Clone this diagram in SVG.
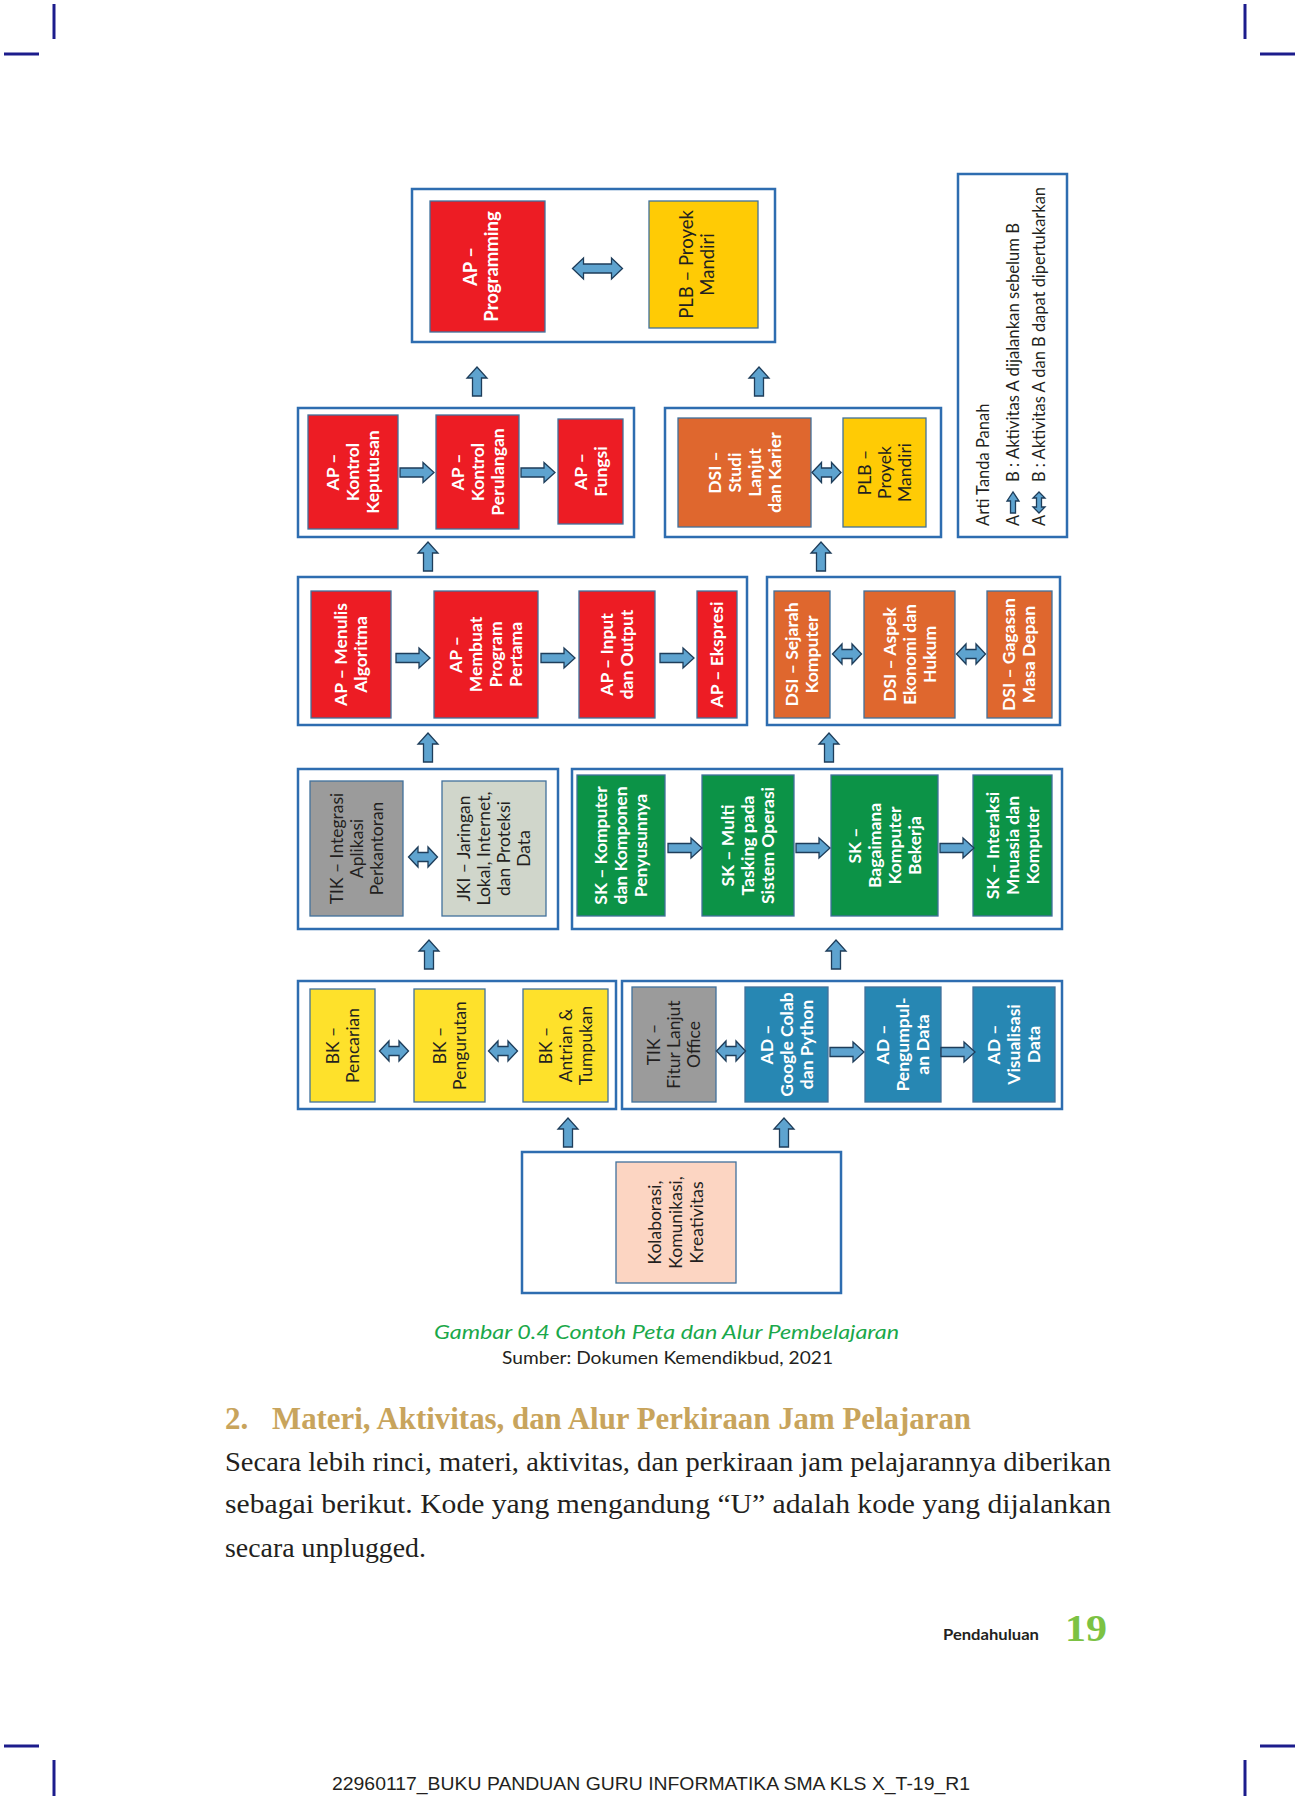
<svg xmlns="http://www.w3.org/2000/svg" xmlns:xlink="http://www.w3.org/1999/xlink" width="1298" height="1800" viewBox="0 0 1298 1800">
<style>
.pg{fill:#fff}
.crop{stroke:#1c1c8c;stroke-width:3;fill:none}
.ob{fill:#fff;stroke:#2e6db0;stroke-width:2.5}
.ib{stroke:#41719c;stroke-width:1.3}
.red{fill:#ed1c24}.yel{fill:#ffcb05}.byel{fill:#fee12b}.org{fill:#df672e}.gry{fill:#9b9b9b}.lgr{fill:#d0d6cb}.grn{fill:#0c9347}.blu{fill:#2787b3}.pch{fill:#fcd5c2}
.bt{font-family:Lato,"Open Sans","DejaVu Sans",sans-serif;font-size:17.5px;text-anchor:middle}
.big{font-size:18.5px}
.tw{fill:#fff;font-weight:700}
.tk{fill:#231f20;font-weight:400}
.lg{font-family:Lato,"Open Sans","DejaVu Sans",sans-serif;font-size:16.5px;fill:#231f20}
.arr{fill:#5ea3cf;stroke:#1e3d5a;stroke-width:1.3;stroke-linejoin:miter}
.cap{font-family:Lato,"Open Sans","Liberation Sans",sans-serif}
.ser{font-family:"Liberation Serif","DejaVu Serif",serif}
</style>
<defs>
<path id="ar" d="M0,-4.5H23V-10L34,0L23,10V4.5H0Z"/>
<path id="au" d="M-4.5,0V-18H-10L0,-29L10,-18H4.5V0Z"/>
<path id="ad" d="M-14.5,0L-5,-10V-4.5H5V-10L14.5,0L5,10V4.5H-5V10Z"/>
<path id="ad2" d="M-25,0L-14,-10.5V-4.5H14V-10.5L25,0L14,10.5V4.5H-14V10.5Z"/>
<path id="lu" d="M-2.5,0V-12H-6L0,-21L6,-12H2.5V0Z"/>
<path id="ld" d="M0,-10.5L6,-4.5H2.5V4.5H6L0,10.5L-6,4.5H-2.5V-4.5H-6Z"/>
</defs>
<rect class="pg" x="0" y="0" width="1298" height="1800"/>

<g id="crop-marks">
<line class="crop" x1="54" y1="4" x2="54" y2="39"/>
<line class="crop" x1="4" y1="54" x2="39" y2="54"/>
<line class="crop" x1="1245" y1="4" x2="1245" y2="39"/>
<line class="crop" x1="1260" y1="54" x2="1295" y2="54"/>
<line class="crop" x1="4" y1="1746" x2="39" y2="1746"/>
<line class="crop" x1="54" y1="1760" x2="54" y2="1796"/>
<line class="crop" x1="1260" y1="1746" x2="1295" y2="1746"/>
<line class="crop" x1="1245" y1="1760" x2="1245" y2="1796"/>
</g>

<g id="groups">
<rect class="ob" x="412" y="189" width="363" height="153"/>
<rect class="ob" x="298" y="408" width="336" height="129"/>
<rect class="ob" x="665" y="408" width="276" height="129"/>
<rect class="ob" x="298" y="577" width="449" height="148"/>
<rect class="ob" x="767" y="577" width="293" height="148"/>
<rect class="ob" x="298" y="769" width="260" height="160"/>
<rect class="ob" x="572" y="769" width="490" height="160"/>
<rect class="ob" x="298" y="981" width="318" height="128"/>
<rect class="ob" x="622" y="981" width="440" height="128"/>
<rect class="ob" x="522" y="1152" width="319" height="141"/>
</g>

<g id="legend">
<rect class="ob" x="958" y="174" width="109" height="363"/>
<text class="lg" transform="translate(989,526) rotate(-90)">Arti Tanda Panah</text>
<text class="lg" transform="translate(1019,526) rotate(-90)">A</text>
<use href="#lu" class="arr" x="1013" y="513"/>
<text class="lg" transform="translate(1019,482) rotate(-90)" textLength="259" lengthAdjust="spacingAndGlyphs">B : Aktivitas A dijalankan sebelum B</text>
<text class="lg" transform="translate(1045,526) rotate(-90)">A</text>
<use href="#ld" class="arr" x="1039" y="502.5"/>
<text class="lg" transform="translate(1045,482) rotate(-90)" textLength="295" lengthAdjust="spacingAndGlyphs">B : Aktivitas A dan B dapat dipertukarkan</text>
</g>

<g id="n-ap-programming"><rect class="ib red" x="430" y="201" width="115" height="131"/>
<text class="bt big tw" transform="translate(481,266.5) rotate(-90)"><tspan x="0" y="-4">AP –</tspan><tspan x="0" y="17">Programming</tspan></text></g>
<g id="n-plb-top"><rect class="ib yel" x="649" y="201" width="109" height="127"/>
<text class="bt big tk" transform="translate(697,264.5) rotate(-90)"><tspan x="0" y="-4">PLB – Proyek</tspan><tspan x="0" y="17">Mandiri</tspan></text></g>

<g id="n-ap-keputusan"><rect class="ib red" x="308" y="415" width="90" height="114"/>
<text class="bt tw" transform="translate(353,472) rotate(-90)"><tspan x="0" y="-14">AP –</tspan><tspan x="0" y="6">Kontrol</tspan><tspan x="0" y="26">Keputusan</tspan></text></g>
<g id="n-ap-perulangan"><rect class="ib red" x="436" y="415" width="83" height="114"/>
<text class="bt tw" transform="translate(477.5,472) rotate(-90)"><tspan x="0" y="-14">AP –</tspan><tspan x="0" y="6">Kontrol</tspan><tspan x="0" y="26">Perulangan</tspan></text></g>
<g id="n-ap-fungsi"><rect class="ib red" x="558" y="419" width="65" height="105"/>
<text class="bt tw" transform="translate(590.5,471.5) rotate(-90)"><tspan x="0" y="-4">AP –</tspan><tspan x="0" y="16">Fungsi</tspan></text></g>
<g id="n-dsi-studi"><rect class="ib org" x="678" y="418" width="133" height="109"/>
<text class="bt tw" transform="translate(744.5,472.5) rotate(-90)"><tspan x="0" y="-24">DSI –</tspan><tspan x="0" y="-4">Studi</tspan><tspan x="0" y="16">Lanjut</tspan><tspan x="0" y="36">dan Karier</tspan></text></g>
<g id="n-plb-mid"><rect class="ib yel" x="843" y="418" width="83" height="109"/>
<text class="bt tk" transform="translate(884.5,472.5) rotate(-90)"><tspan x="0" y="-14">PLB –</tspan><tspan x="0" y="6">Proyek</tspan><tspan x="0" y="26">Mandiri</tspan></text></g>

<g id="n-ap-menulis"><rect class="ib red" x="311" y="591" width="80" height="127"/>
<text class="bt tw" transform="translate(351,654.5) rotate(-90)"><tspan x="0" y="-4">AP – Menulis</tspan><tspan x="0" y="16">Algoritma</tspan></text></g>
<g id="n-ap-membuat"><rect class="ib red" x="434" y="591" width="104" height="127"/>
<text class="bt tw" transform="translate(486,654.5) rotate(-90)"><tspan x="0" y="-24">AP –</tspan><tspan x="0" y="-4">Membuat</tspan><tspan x="0" y="16">Program</tspan><tspan x="0" y="36">Pertama</tspan></text></g>
<g id="n-ap-input"><rect class="ib red" x="579" y="591" width="76" height="127"/>
<text class="bt tw" transform="translate(617,654.5) rotate(-90)"><tspan x="0" y="-4">AP – Input</tspan><tspan x="0" y="16">dan Output</tspan></text></g>
<g id="n-ap-ekspresi"><rect class="ib red" x="697" y="591" width="40" height="127"/>
<text class="bt tw" transform="translate(717,654.5) rotate(-90)"><tspan x="0" y="6">AP – Ekspresi</tspan></text></g>
<g id="n-dsi-sejarah"><rect class="ib org" x="774" y="591" width="56" height="127"/>
<text class="bt tw" transform="translate(802,654.5) rotate(-90)"><tspan x="0" y="-4">DSI – Sejarah</tspan><tspan x="0" y="16">Komputer</tspan></text></g>
<g id="n-dsi-aspek"><rect class="ib org" x="864" y="591" width="91" height="127"/>
<text class="bt tw" transform="translate(909.5,654.5) rotate(-90)"><tspan x="0" y="-14">DSI – Aspek</tspan><tspan x="0" y="6">Ekonomi dan</tspan><tspan x="0" y="26">Hukum</tspan></text></g>
<g id="n-dsi-gagasan"><rect class="ib org" x="987" y="591" width="65" height="127"/>
<text class="bt tw" transform="translate(1019,654.5) rotate(-90)"><tspan x="0" y="-4">DSI – Gagasan</tspan><tspan x="0" y="16">Masa Depan</tspan></text></g>

<g id="n-tik-integrasi"><rect class="ib gry" x="310" y="781" width="93" height="135"/>
<text class="bt tk" transform="translate(356.5,848.5) rotate(-90)"><tspan x="0" y="-14">TIK – Integrasi</tspan><tspan x="0" y="6">Aplikasi</tspan><tspan x="0" y="26">Perkantoran</tspan></text></g>
<g id="n-jki"><rect class="ib lgr" x="442" y="781" width="104" height="135"/>
<text class="bt tk" transform="translate(494,848.5) rotate(-90)"><tspan x="0" y="-24">JKI – Jaringan</tspan><tspan x="0" y="-4">Lokal, Internet,</tspan><tspan x="0" y="16">dan Proteksi</tspan><tspan x="0" y="36">Data</tspan></text></g>
<g id="n-sk-komputer"><rect class="ib grn" x="577" y="775" width="88" height="141"/>
<text class="bt tw" transform="translate(621,845.5) rotate(-90)"><tspan x="0" y="-14">SK – Komputer</tspan><tspan x="0" y="6">dan Komponen</tspan><tspan x="0" y="26">Penyusunnya</tspan></text></g>
<g id="n-sk-multi"><rect class="ib grn" x="702" y="775" width="92" height="141"/>
<text class="bt tw" transform="translate(748,845.5) rotate(-90)"><tspan x="0" y="-14">SK – Multi</tspan><tspan x="0" y="6">Tasking pada</tspan><tspan x="0" y="26">Sistem Operasi</tspan></text></g>
<g id="n-sk-bagaimana"><rect class="ib grn" x="831" y="775" width="107" height="141"/>
<text class="bt tw" transform="translate(884.5,845.5) rotate(-90)"><tspan x="0" y="-24">SK –</tspan><tspan x="0" y="-4">Bagaimana</tspan><tspan x="0" y="16">Komputer</tspan><tspan x="0" y="36">Bekerja</tspan></text></g>
<g id="n-sk-interaksi"><rect class="ib grn" x="973" y="775" width="79" height="141"/>
<text class="bt tw" transform="translate(1012.5,845.5) rotate(-90)"><tspan x="0" y="-14">SK – Interaksi</tspan><tspan x="0" y="6">Mnuasia dan</tspan><tspan x="0" y="26">Komputer</tspan></text></g>

<g id="n-bk-pencarian"><rect class="ib byel" x="310" y="989" width="65" height="113"/>
<text class="bt tk" transform="translate(342.5,1045.5) rotate(-90)"><tspan x="0" y="-4">BK –</tspan><tspan x="0" y="16">Pencarian</tspan></text></g>
<g id="n-bk-pengurutan"><rect class="ib byel" x="414" y="989" width="71" height="113"/>
<text class="bt tk" transform="translate(449.5,1045.5) rotate(-90)"><tspan x="0" y="-4">BK –</tspan><tspan x="0" y="16">Pengurutan</tspan></text></g>
<g id="n-bk-antrian"><rect class="ib byel" x="523" y="989" width="85" height="113"/>
<text class="bt tk" transform="translate(565.5,1045.5) rotate(-90)"><tspan x="0" y="-14">BK –</tspan><tspan x="0" y="6">Antrian &amp;</tspan><tspan x="0" y="26">Tumpukan</tspan></text></g>
<g id="n-tik-fitur"><rect class="ib gry" x="632" y="987" width="84" height="115"/>
<text class="bt tk" transform="translate(674,1044.5) rotate(-90)"><tspan x="0" y="-14">TIK –</tspan><tspan x="0" y="6">Fitur Lanjut</tspan><tspan x="0" y="26">Office</tspan></text></g>
<g id="n-ad-colab"><rect class="ib blu" x="745" y="987" width="83" height="115"/>
<text class="bt tw" transform="translate(786.5,1044.5) rotate(-90)"><tspan x="0" y="-14">AD –</tspan><tspan x="0" y="6">Google Colab</tspan><tspan x="0" y="26">dan Python</tspan></text></g>
<g id="n-ad-pengumpulan"><rect class="ib blu" x="865" y="987" width="76" height="115"/>
<text class="bt tw" transform="translate(903,1044.5) rotate(-90)"><tspan x="0" y="-14">AD –</tspan><tspan x="0" y="6">Pengumpul-</tspan><tspan x="0" y="26">an Data</tspan></text></g>
<g id="n-ad-visualisasi"><rect class="ib blu" x="973" y="987" width="82" height="115"/>
<text class="bt tw" transform="translate(1014,1044.5) rotate(-90)"><tspan x="0" y="-14">AD –</tspan><tspan x="0" y="6">Visualisasi</tspan><tspan x="0" y="26">Data</tspan></text></g>

<g id="n-kolaborasi"><rect class="ib pch" x="616" y="1162" width="120" height="121"/>
<text class="bt tk" transform="translate(676,1222.5) rotate(-90)"><tspan x="0" y="-15">Kolaborasi,</tspan><tspan x="0" y="6">Komunikasi,</tspan><tspan x="0" y="27">Kreativitas</tspan></text></g>

<g id="connectors">
<use href="#ad2" class="arr" x="597.5" y="268.5"/>
<use href="#au" class="arr" x="477" y="396"/>
<use href="#au" class="arr" x="759" y="396"/>
<use href="#ar" class="arr" x="400" y="472.5"/>
<use href="#ar" class="arr" x="521" y="472.5"/>
<use href="#ad" class="arr" x="826.5" y="472.5"/>
<use href="#au" class="arr" x="428" y="571"/>
<use href="#au" class="arr" x="821" y="571"/>
<use href="#ar" class="arr" x="396" y="658"/>
<use href="#ar" class="arr" x="541" y="658"/>
<use href="#ar" class="arr" x="660" y="658"/>
<use href="#ad" class="arr" x="847" y="654"/>
<use href="#ad" class="arr" x="971" y="654"/>
<use href="#au" class="arr" x="428" y="762"/>
<use href="#au" class="arr" x="829" y="762"/>
<use href="#ad" class="arr" x="423" y="857"/>
<use href="#ar" class="arr" x="668" y="848"/>
<use href="#ar" class="arr" x="796" y="848"/>
<use href="#ar" class="arr" x="940" y="848"/>
<use href="#au" class="arr" x="429" y="969"/>
<use href="#au" class="arr" x="836" y="969"/>
<use href="#ad" class="arr" x="394" y="1051"/>
<use href="#ad" class="arr" x="503" y="1051"/>
<use href="#ad" class="arr" x="731" y="1051"/>
<use href="#ar" class="arr" x="830" y="1052"/>
<use href="#ar" class="arr" x="941" y="1052"/>
<use href="#au" class="arr" x="568" y="1147"/>
<use href="#au" class="arr" x="784" y="1147"/>
</g>

<g id="page-text">
<text class="cap" x="434" y="1339" font-size="20" font-style="italic" fill="#1aa84a" textLength="465" lengthAdjust="spacingAndGlyphs">Gambar 0.4 Contoh Peta dan Alur Pembelajaran</text>
<text class="cap" x="502" y="1364" font-size="17" fill="#231f20" textLength="331" lengthAdjust="spacingAndGlyphs">Sumber: Dokumen Kemendikbud, 2021</text>
<text class="ser" x="225" y="1429" font-size="31" font-weight="700" fill="#c8a45c">2.</text>
<text class="ser" x="272" y="1429" font-size="31" font-weight="700" fill="#c8a45c" textLength="699" lengthAdjust="spacingAndGlyphs">Materi, Aktivitas, dan Alur Perkiraan Jam Pelajaran</text>
<text class="ser" x="225" y="1471" font-size="28" fill="#231f20" textLength="886" lengthAdjust="spacingAndGlyphs">Secara lebih rinci, materi, aktivitas, dan perkiraan jam pelajarannya diberikan</text>
<text class="ser" x="225" y="1513" font-size="28" fill="#231f20" textLength="886" lengthAdjust="spacingAndGlyphs">sebagai berikut. Kode yang mengandung “U” adalah kode yang dijalankan</text>
<text class="ser" x="225" y="1557" font-size="28" fill="#231f20" textLength="201" lengthAdjust="spacingAndGlyphs">secara unplugged.</text>
<text class="cap" x="943" y="1640" font-size="16" font-weight="700" fill="#231f20" textLength="96" lengthAdjust="spacingAndGlyphs">Pendahuluan</text>
<text class="ser" x="1065" y="1641" font-size="38" font-weight="700" fill="#7cc243" textLength="42" lengthAdjust="spacingAndGlyphs">19</text>
<text x="332" y="1790" font-family="'Liberation Sans',Arial,sans-serif" font-size="18" fill="#231f20" textLength="638" lengthAdjust="spacingAndGlyphs">22960117_BUKU PANDUAN GURU INFORMATIKA SMA KLS X_T-19_R1</text>
</g>
</svg>
